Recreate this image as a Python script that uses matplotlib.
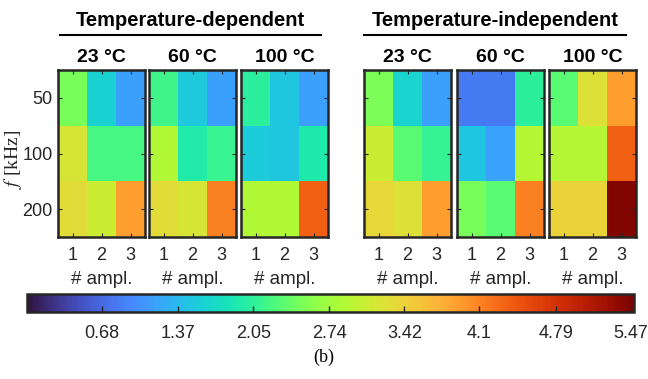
import numpy as np
import matplotlib.pyplot as plt
from matplotlib.lines import Line2D

# values (rows: 50, 100, 200 kHz; cols: 1, 2, 3 ampl.)
freqs = ["50", "100", "200"]
ampl = [1, 2, 3]
temps = ["23 °C", "60 °C", "100 °C"]

td_23 = [[2.48, 1.60, 1.16], [3.19, 2.20, 2.20], [3.30, 3.08, 3.90]]
td_60 = [[2.15, 1.51, 1.16], [2.86, 1.95, 2.12], [3.30, 3.19, 4.12]]
td_100 = [[2.04, 1.49, 1.16], [1.54, 1.49, 1.93], [2.86, 2.86, 4.35]]
ti_23 = [[2.50, 1.62, 1.16], [3.08, 2.31, 2.09], [3.36, 3.25, 3.90]]
ti_60 = [[0.83, 0.83, 2.04], [1.49, 1.18, 2.92], [2.48, 2.31, 4.12]]
ti_100 = [[2.31, 3.25, 3.90], [2.92, 2.92, 4.35], [3.41, 3.41, 5.45]]

vmin, vmax = 0.0, 5.5
cbar_ticks = [0.68, 1.37, 2.05, 2.74, 3.42, 4.1, 4.79, 5.47]

panels = [td_23, td_60, td_100, ti_23, ti_60, ti_100]
lefts = [58, 149, 241, 364, 457, 549]

W, H = 648, 379
plt.rcParams["font.family"] = "Liberation Sans"
plt.rcParams["mathtext.fontset"] = "stix"
fig = plt.figure(figsize=(W / 100, H / 100), dpi=100)
dark = "#262626"

for i, (data, lx) in enumerate(zip(panels, lefts)):
    ax = fig.add_axes([lx / W, 1 - 237 / H, 87 / W, 167 / H])
    im = ax.imshow(np.array(data), cmap="turbo", vmin=vmin, vmax=vmax,
                   aspect="auto", extent=[0.5, 3.5, 2.5, -0.5])
    ax.set_xticks(ampl)
    ax.set_yticks(range(3))
    ax.tick_params(direction="in", top=True, right=True, length=3,
                   width=0.8, colors=dark, labelsize=13, pad=4)
    ax.tick_params(axis="x", pad=7)
    if i == 0:
        ax.set_yticklabels(freqs)
    else:
        ax.set_yticklabels([])
    ax.set_xlabel("# ampl.", fontsize=13.5, color=dark, labelpad=5)
    ax.set_title(temps[i % 3], fontsize=14, fontweight="bold", pad=6)
    for s in ax.spines.values():
        s.set_linewidth(1.8)
        s.set_color(dark)

# y label, placed by hand left of the tick labels
fig.text(13 / W, 1 - 159 / H, "$f$ [kHz]", rotation=90, ha="center", va="center",
         fontsize=14, family="Liberation Serif", color=dark)

# group headings with a line under them
for txt, x0, x1 in [("Temperature-dependent", 60, 321),
                    ("Temperature-independent", 364, 626)]:
    fig.text((x0 + x1) / 2 / W, 1 - 20 / H, txt, ha="center", va="center",
             fontsize=14.5, fontweight="bold")
    fig.add_artist(Line2D([x0 / W, x1 / W], [1 - 35 / H, 1 - 35 / H],
                          color="black", linewidth=1.5))

# colorbar
cax = fig.add_axes([27 / W, 1 - 312 / H, 607 / W, 18 / H])
cb = fig.colorbar(im, cax=cax, orientation="horizontal")
cb.set_ticks(cbar_ticks)
cb.set_ticklabels(["0.68", "1.37", "2.05", "2.74", "3.42", "4.1", "4.79", "5.47"])
cax.tick_params(direction="in", length=4.5, width=1, colors=dark,
                labelsize=13, pad=9)
cb.outline.set_linewidth(1.8)
cb.outline.set_edgecolor(dark)

fig.text(0.5, 1 - 357 / H, "(b)", ha="center", va="center",
         fontsize=13, family="Liberation Serif")

fig.savefig("out.png", dpi=100)
